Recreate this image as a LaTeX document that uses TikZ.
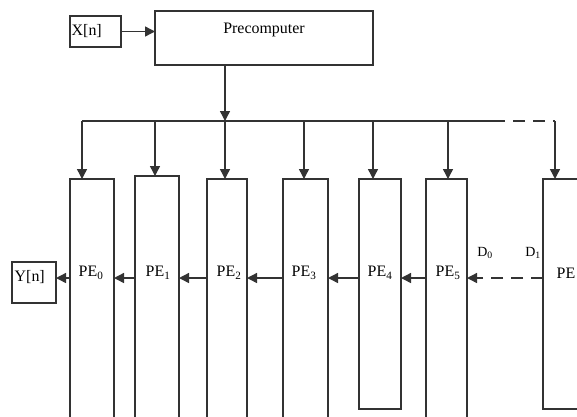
\documentclass[tikz,border=0pt]{standalone}
\usepackage{fontspec}
\setmainfont{Liberation Serif}
\usepackage{xcolor}
\usetikzlibrary{positioning, calc, arrows.meta}

\begin{document}
\begin{tikzpicture}[x=1bp,y=-1bp,
                    line width=1.4bp,
                    box/.style={draw=black!80,inner sep=0pt,outer sep=0pt,anchor=north west},
                    pe label/.style={font=\fontsize{16}{18}\selectfont,inner sep=0pt},
                    d label/.style={font=\fontsize{14}{16}\selectfont,inner sep=0pt},
                    arrow/.style={draw=black!80,-{Triangle[length=10bp,width=10bp]}}]

  \clip (0,0) rectangle (577,416);

  % input, precomputer and output
  \node[box,minimum width=51bp,minimum height=31bp] (xn) at (70,16) {};
  \node[pe label,anchor=west] at (71,31) {X[n]};
  \node[box,minimum width=218bp,minimum height=54bp] (pre) at (155,11) {};
  \node[pe label] at (264,30) {Precomputer};
  \node[box,minimum width=44bp,minimum height=41bp] (yn) at (12,262) {};
  \node[pe label,anchor=west] at (14,277) {Y[n]};

  % processing elements
  \node[box,minimum width=44bp,minimum height=260bp] (pe0) at (70,179) {};
  \node[box,minimum width=44bp,minimum height=264bp] (pe1) at (135,176) {};
  \node[box,minimum width=40bp,minimum height=260bp] (pe2) at (207,179) {};
  \node[box,minimum width=45bp,minimum height=260bp] (pe3) at (283,179) {};
  \node[box,minimum width=42bp,minimum height=230bp] (pe4) at (359,179) {};
  \node[box,minimum width=41bp,minimum height=260bp] (pe5) at (426,179) {};
  \node[box,minimum width=60bp,minimum height=230bp] (pe6) at (543,179) {};

  \node[pe label] at (91,273) {PE\textsubscript{0}};
  \node[pe label] at (158,273) {PE\textsubscript{1}};
  \node[pe label] at (229,273) {PE\textsubscript{2}};
  \node[pe label] at (304,273) {PE\textsubscript{3}};
  \node[pe label] at (380,273) {PE\textsubscript{4}};
  \node[pe label] at (448,273) {PE\textsubscript{5}};
  \node[pe label,anchor=west] at (556,273) {PE};
  \node[d label] at (485,253) {D\textsubscript{0}};
  \node[d label] at (533,253) {D\textsubscript{1}};

  % bus
  \coordinate (b0) at (82,121);
  \coordinate (b1) at (155,121);
  \coordinate (b2) at (225,121);
  \coordinate (b3) at (304,121);
  \coordinate (b4) at (373,121);
  \coordinate (b5) at (448,121);
  \coordinate (bend) at (493,121);
  \coordinate (b6) at (555,121);
  \coordinate (row) at (0,278);

  \draw[arrow] (xn.east) -- (xn.east -| pre.west);
  \draw[arrow] (pre.south -| b2) -- (b2);
  \draw[draw=black!80] (b0) -- (bend);
  \draw[draw=black!80,dash pattern=on 12bp off 8bp] (bend) -- (b6);

  \draw[arrow] (b0) -- (b0 |- pe0.north);
  \draw[arrow] (b1) -- (b1 |- pe1.north);
  \draw[arrow] (b2) -- (b2 |- pe2.north);
  \draw[arrow] (b3) -- (b3 |- pe3.north);
  \draw[arrow] (b4) -- (b4 |- pe4.north);
  \draw[arrow] (b5) -- (b5 |- pe5.north);
  \draw[arrow] (b6) -- (b6 |- pe6.north);

  % data flow between elements
  \draw[arrow] (pe0.west |- row) -- (yn.east |- row);
  \draw[arrow] (pe1.west |- row) -- (pe0.east |- row);
  \draw[arrow] (pe2.west |- row) -- (pe1.east |- row);
  \draw[arrow] (pe3.west |- row) -- (pe2.east |- row);
  \draw[arrow] (pe4.west |- row) -- (pe3.east |- row);
  \draw[arrow] (pe5.west |- row) -- (pe4.east |- row);
  \draw[arrow,dash pattern=on 12bp off 8bp] (pe6.west |- row) -- (pe5.east |- row);
\end{tikzpicture}
\end{document}
